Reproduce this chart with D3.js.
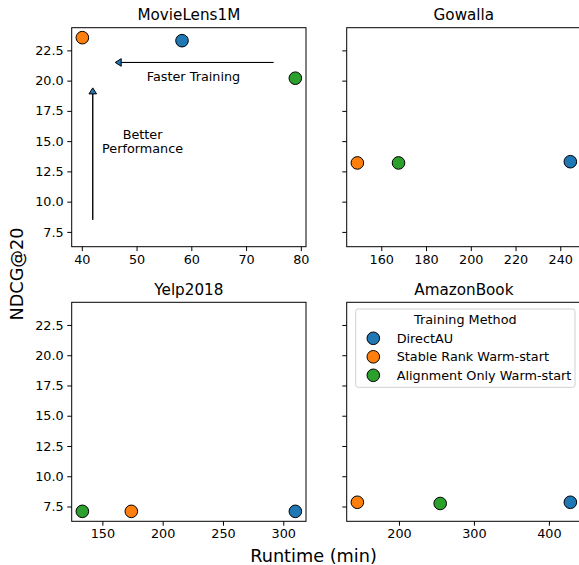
<!DOCTYPE html>
<html lang="en">

<head>
    <meta charset="UTF-8">
    <title>Runtime vs NDCG@20</title>
    <style>
        html,
        body {
            background-color: white;
            margin: 0;
            overflow: hidden;
        }

        text {
            font-family: "DejaVu Sans", sans-serif;
            fill: black;
        }
    </style>
</head>

<body>
    <main></main>
    <script src="https://d3js.org/d3.v7.min.js"></script>
    <script>
        // - - - - - - - - - -
        // 1. Data
        // - - - - - - - - - -
        const datasets = ['MovieLens1M', 'Gowalla', 'Yelp2018', 'AmazonBook'];
        const methods = ['DirectAU', 'Stable Rank Warm-start', 'Alignment Only Warm-start'];
        const methodColors = ['#1f77b4', '#ff7f0e', '#2ca02c'];

        // runtime (min) and NDCG@20 per dataset, same order as datasets
        const directAURuntime = [58.3, 244.5, 310, 428.6];
        const directAUNdcg = [23.3, 13.3, 7.1, 7.85];
        const stableRankRuntime = [40.1, 149.3, 174, 144.5];
        const stableRankNdcg = [23.55, 13.2, 7.1, 7.85];
        const alignOnlyRuntime = [79, 167.7, 133.4, 255];
        const alignOnlyNdcg = [20.2, 13.2, 7.1, 7.75];

        const xTicks = [
            [40, 50, 60, 70, 80],
            [160, 180, 200, 220, 240],
            [150, 200, 250, 300],
            [200, 300, 400]
        ];
        const yTicks = [7.5, 10, 12.5, 15, 17.5, 20, 22.5];

        // arrows and notes on the MovieLens1M panel, in data units
        const arrows = [
            { from: [75, 21.5], to: [46.1, 21.5] },
            { from: [42, 8.5], to: [42, 19.4] }
        ];
        const notes = [
            { at: [60.4, 20.35], lines: ['Faster Training'] },
            { at: [51.1, 15.0], lines: ['Better', 'Performance'] }
        ];

        !(function () {
            'use strict';

            let svg,
                canvas = { width: 579, height: 565 },
                panel = { width: 234.3, height: 219 },
                lefts = [71.7, 346.7],
                tops = [27.7, 302.3],
                runtimes = [directAURuntime, stableRankRuntime, alignOnlyRuntime],
                ndcgs = [directAUNdcg, stableRankNdcg, alignOnlyNdcg],
                smallFont = '12.8px',
                yScale;

            // pad the data range by 5% each side, like matplotlib
            function padded(values) {
                const [lo, hi] = d3.extent(values),
                    m = (hi - lo) * 0.05;
                return [lo - m, hi + m];
            }

            function setSvg() {
                svg = d3.select('main')
                    .append('svg')
                    .attr('width', canvas.width)
                    .attr('height', canvas.height);
            }

            function setYScale() {
                yScale = d3.scaleLinear()
                    .domain(padded(ndcgs.flat()))
                    .range([panel.height, 0]);
            }

            function drawArrow(g, x, y, a) {
                const x0 = x(a.from[0]), y0 = y(a.from[1]),
                    x1 = x(a.to[0]), y1 = y(a.to[1]),
                    len = Math.hypot(x1 - x0, y1 - y0),
                    ux = (x1 - x0) / len, uy = (y1 - y0) / len,
                    headLen = 6, headHalf = 3.8,
                    bx = x1 - ux * headLen, by = y1 - uy * headLen,
                    px = -uy * headHalf, py = ux * headHalf;
                const path = d3.path();
                path.moveTo(x0, y0);
                path.lineTo(bx, by);
                path.lineTo(bx + px, by + py);
                path.lineTo(x1, y1);
                path.lineTo(bx - px, by - py);
                path.lineTo(bx, by);
                path.closePath();
                g.append('path')
                    .attr('d', path.toString())
                    .attr('fill', methodColors[0])
                    .attr('stroke', 'black')
                    .attr('stroke-width', 1)
                    .attr('stroke-linejoin', 'miter');
            }

            function drawPanel(i) {
                const col = i % 2, row = Math.floor(i / 2),
                    g = svg.append('g')
                        .attr('transform', 'translate(' + lefts[col] + ',' + tops[row] + ')'),
                    xValues = runtimes.map(function (r) { return r[i]; }),
                    x = d3.scaleLinear()
                        .domain(padded(xValues))
                        .range([0, panel.width]);

                // x axis
                const xAxis = g.append('g')
                    .attr('transform', 'translate(0,' + panel.height + ')')
                    .call(d3.axisBottom(x).tickValues(xTicks[i]).tickSize(4.4).tickPadding(3.6));
                // y axis (labels only on the left column)
                const yAxis = g.append('g')
                    .call(d3.axisLeft(yScale).tickValues(yTicks).tickSize(4.4).tickPadding(3.6)
                        .tickFormat(col === 0 ? d3.format('.1f') : function () { return ''; }));

                [xAxis, yAxis].forEach(function (ax) {
                    ax.select('.domain').remove();
                    ax.selectAll('line').attr('stroke', 'black').attr('stroke-width', 1);
                    ax.selectAll('text')
                        .style('font-family', '"DejaVu Sans", sans-serif')
                        .style('font-size', smallFont)
                        .attr('fill', 'black');
                });

                // frame
                g.append('rect')
                    .attr('width', panel.width)
                    .attr('height', panel.height)
                    .attr('fill', 'none')
                    .attr('stroke', 'black')
                    .attr('stroke-width', 1);

                // title
                g.append('text')
                    .attr('x', panel.width / 2)
                    .attr('y', -7.4)
                    .attr('text-anchor', 'middle')
                    .style('font-size', '15.2px')
                    .text(datasets[i]);

                if (i === 0) {
                    arrows.forEach(function (a) { drawArrow(g, x, yScale, a); });
                    notes.forEach(function (n) {
                        const t = g.append('text')
                            .attr('text-anchor', 'middle')
                            .style('font-size', smallFont);
                        n.lines.forEach(function (line, k) {
                            t.append('tspan')
                                .attr('x', x(n.at[0]))
                                .attr('y', yScale(n.at[1]) + 4.6 + (k - (n.lines.length - 1) / 2) * 14.2)
                                .text(line);
                        });
                    });
                }

                // points
                methods.forEach(function (m, k) {
                    g.append('circle')
                        .attr('cx', x(runtimes[k][i]))
                        .attr('cy', yScale(ndcgs[k][i]))
                        .attr('r', 6.3)
                        .attr('fill', methodColors[k])
                        .attr('stroke', 'black')
                        .attr('stroke-width', 1);
                });
            }

            function drawLegend() {
                const box = { x: 355.7, y: 309, w: 219.3, h: 78.3 },
                    g = svg.append('g');

                g.append('rect')
                    .attr('x', box.x).attr('y', box.y)
                    .attr('width', box.w).attr('height', box.h)
                    .attr('rx', 2.5)
                    .attr('fill', 'white').attr('fill-opacity', 0.8)
                    .attr('stroke', '#d0d0d0').attr('stroke-width', 1);

                g.append('text')
                    .attr('x', box.x + box.w / 2)
                    .attr('y', box.y + 14.9)
                    .attr('text-anchor', 'middle')
                    .style('font-size', smallFont)
                    .text('Training Method');

                methods.forEach(function (m, k) {
                    const cy = box.y + 29.3 + k * 18.5;
                    g.append('circle')
                        .attr('cx', 373.3).attr('cy', cy)
                        .attr('r', 6.3)
                        .attr('fill', methodColors[k])
                        .attr('stroke', 'black')
                        .attr('stroke-width', 1);
                    g.append('text')
                        .attr('x', 396.7).attr('y', cy + 4.6)
                        .style('font-size', smallFont)
                        .text(m);
                });
            }

            function drawLabels() {
                svg.append('text')
                    .attr('transform', 'translate(23,274) rotate(-90)')
                    .attr('text-anchor', 'middle')
                    .style('font-size', '17.7px')
                    .text('NDCG@20');

                svg.append('text')
                    .attr('x', 313.5)
                    .attr('y', 562)
                    .attr('text-anchor', 'middle')
                    .style('font-size', '17.7px')
                    .text('Runtime (min)');
            }

            function main() {
                setSvg();
                setYScale();
                datasets.forEach(function (d, i) { drawPanel(i); });
                drawLegend();
                drawLabels();
            }

            window.addEventListener('load', main);
        }());
    </script>
</body>

</html>
